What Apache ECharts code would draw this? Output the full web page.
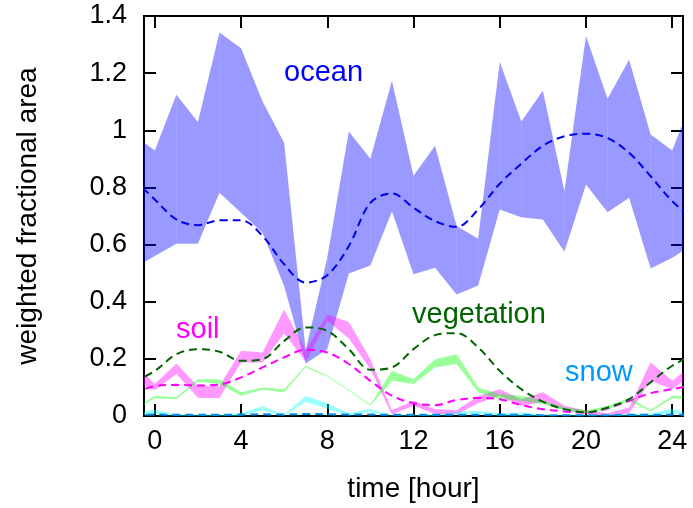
<!DOCTYPE html>
<html><head><meta charset="utf-8">
<script src="https://cdn.jsdelivr.net/npm/echarts@6/dist/echarts.min.js"></script>
<style>html,body{margin:0;padding:0;background:#fff}#c{width:693px;height:508px}</style>
</head><body><div id="c"></div>
<script>
// hourly samples (hours -1 .. 25, plot shows -0.5 .. 24.5)
const hours = [-1,0,1,2,3,4,5,6,7,8,9,10,11,12,13,14,15,16,17,18,19,20,21,22,23,24,25];
const xTicks = [0,4,8,12,16,20,24];

const oceanLower = [0.516,0.560,0.603,0.603,0.781,0.711,0.641,0.455,0.184,0.234,0.499,0.527,0.717,0.496,0.519,0.425,0.457,0.723,0.696,0.688,0.575,0.810,0.713,0.764,0.516,0.554,0.603];
const oceanUpper = [0.985,0.929,1.124,1.029,1.342,1.287,1.101,0.956,0.230,0.554,0.996,0.900,1.173,0.841,0.946,0.665,0.620,1.240,1.031,1.138,0.787,1.330,1.110,1.247,0.985,0.929,1.124];
const oceanMean  = [0.830,0.758,0.688,0.668,0.685,0.685,0.630,0.531,0.467,0.493,0.595,0.746,0.779,0.729,0.682,0.662,0.723,0.813,0.883,0.946,0.979,0.988,0.973,0.921,0.839,0.752,0.688];

const soilLower = [0.123,0.090,0.147,0.064,0.062,0.187,0.187,0.290,0.190,0.333,0.271,0.164,0.005,0.036,0.007,0.005,0.045,0.071,0.036,0.048,0.019,0.007,0.000,0.010,0.123,0.094,0.147];
const soilUpper = [0.188,0.112,0.184,0.104,0.104,0.228,0.222,0.373,0.230,0.354,0.329,0.199,0.020,0.053,0.024,0.020,0.070,0.094,0.059,0.083,0.036,0.019,0.010,0.030,0.188,0.123,0.184];
const soilMean  = [0.080,0.104,0.109,0.107,0.110,0.135,0.170,0.205,0.232,0.222,0.182,0.123,0.071,0.045,0.038,0.056,0.063,0.059,0.038,0.024,0.016,0.012,0.027,0.053,0.080,0.094,0.109];

const vegLower = [0.016,0.062,0.059,0.120,0.112,0.071,0.092,0.083,0.170,0.138,0.088,0.036,0.123,0.112,0.170,0.182,0.083,0.059,0.053,0.042,0.019,0.010,0.020,0.053,0.016,0.062,0.059];
const vegUpper = [0.022,0.071,0.066,0.129,0.129,0.083,0.100,0.094,0.176,0.142,0.092,0.040,0.158,0.129,0.199,0.216,0.100,0.077,0.071,0.053,0.031,0.020,0.035,0.063,0.022,0.071,0.066];
const vegMean  = [0.118,0.158,0.216,0.234,0.225,0.193,0.199,0.263,0.310,0.298,0.234,0.162,0.170,0.234,0.283,0.290,0.240,0.158,0.094,0.050,0.024,0.013,0.030,0.059,0.118,0.176,0.216];

const snowLower = [0.000,0.008,0.000,0.000,0.000,0.000,0.020,0.000,0.050,0.025,0.000,0.015,0.000,0.000,0.000,0.005,0.008,0.000,0.000,0.000,0.000,0.000,0.000,0.000,0.000,0.010,0.000];
const snowUpper = [0.010,0.022,0.005,0.005,0.005,0.010,0.035,0.005,0.070,0.045,0.010,0.025,0.003,0.003,0.005,0.015,0.018,0.010,0.012,0.005,0.003,0.003,0.005,0.008,0.010,0.025,0.005];
const snowMean  = [0.004,0.005,0.004,0.004,0.004,0.005,0.006,0.005,0.007,0.006,0.005,0.005,0.004,0.004,0.004,0.004,0.004,0.004,0.004,0.003,0.003,0.003,0.003,0.004,0.004,0.005,0.004];

const FONT = 'Liberation Sans, Arial, Helvetica, sans-serif';
const pairs = arr => hours.map((h,i) => [h, arr[i]]);

// band: one quad per hourly segment, drawn through the axis scales
function band(name, lo, up, fill) {
  const rows = [];
  for (let i = 0; i < hours.length - 1; i++) {
    rows.push([hours[i], lo[i], up[i], hours[i+1], lo[i+1], up[i+1]]);
  }
  return {
    name: name, type: 'custom', data: rows, silent: true, z: 1,
    encode: {x: [0, 3], y: [1, 2, 4, 5]},
    renderItem: function (params, api) {
      const a = api.coord([api.value(0), api.value(1)]);
      const b = api.coord([api.value(3), api.value(4)]);
      const c = api.coord([api.value(3), api.value(5)]);
      const d = api.coord([api.value(0), api.value(2)]);
      const cs = params.coordSys;
      return {
        type: 'polygon',
        shape: {points: [a, b, c, d]},
        style: {fill: fill, stroke: null},
        clipPath: {type: 'rect', shape: {x: cs.x, y: cs.y, width: cs.width, height: cs.height}}
      };
    }
  };
}
function dashed(name, arr, color) {
  return {name:name, type:'line', data: pairs(arr), symbol:'none', smooth:0.35,
    lineStyle:{color:color, width:2, type:[8,5]}, z:3, silent:true};
}

const series = [
  band('ocean', oceanLower, oceanUpper, 'rgba(0,0,255,0.4)'),
  band('soil', soilLower, soilUpper, 'rgba(255,0,255,0.4)'),
  band('veg', vegLower, vegUpper, 'rgba(0,255,0,0.4)'),
  band('snow', snowLower, snowUpper, 'rgba(0,255,255,0.4)'),
  dashed('oceanMean', oceanMean, '#0000ee'),
  dashed('soilMean', soilMean, '#ff00ff'),
  dashed('vegMean', vegMean, '#006400'),
  dashed('snowMean', snowMean, '#0090e8')
];

const tickStyle = {show:true, inside:true, length:12, lineStyle:{color:'#000', width:2}};
const chart = echarts.init(document.getElementById('c'), null, {renderer:'canvas'});
chart.setOption({
  animation:false,
  backgroundColor:'#fff',
  grid:{left:144, top:16, right:10, bottom:91, show:true, borderColor:'#000', borderWidth:2, backgroundColor:'transparent'},
  xAxis:[
    {type:'value', min:-0.5, max:24.5, position:'bottom',
     name:'time [hour]', nameLocation:'middle', nameGap:59,
     nameTextStyle:{fontFamily:FONT, fontSize:28, color:'#000'},
     axisLine:{show:true, onZero:false, lineStyle:{color:'#000', width:2}},
     axisTick:Object.assign({customValues:xTicks}, tickStyle),
     axisLabel:{customValues:xTicks, fontFamily:FONT, fontSize:27, color:'#000', margin:12},
     splitLine:{show:false}},
    {type:'value', min:-0.5, max:24.5, position:'top',
     axisLine:{show:true, onZero:false, lineStyle:{color:'#000', width:2}},
     axisTick:Object.assign({customValues:xTicks}, tickStyle),
     axisLabel:{show:false}, splitLine:{show:false}}
  ],
  yAxis:[
    {type:'value', min:0, max:1.4, interval:0.2, position:'left',
     name:'weighted fractional area', nameLocation:'middle', nameGap:102,
     nameTextStyle:{fontFamily:FONT, fontSize:28, color:'#000'},
     axisLine:{show:true, onZero:false, lineStyle:{color:'#000', width:2}},
     axisTick:tickStyle,
     axisLabel:{fontFamily:FONT, fontSize:27, color:'#000', margin:17},
     splitLine:{show:false}},
    {type:'value', min:0, max:1.4, interval:0.2, position:'right',
     axisLine:{show:true, onZero:false, lineStyle:{color:'#000', width:2}},
     axisTick:tickStyle, axisLabel:{show:false}, splitLine:{show:false}}
  ],
  series: series,
  graphic:[
    {type:'text', left:284, top:58, style:{text:'ocean', fill:'#0000ff', font:'29px '+FONT}},
    {type:'text', left:176, top:315, style:{text:'soil', fill:'#ff00ff', font:'29px '+FONT}},
    {type:'text', left:412, top:300, style:{text:'vegetation', fill:'#006400', font:'29px '+FONT}},
    {type:'text', left:565, top:358, style:{text:'snow', fill:'#0099ff', font:'29px '+FONT}}
  ]
});
</script></body></html>
